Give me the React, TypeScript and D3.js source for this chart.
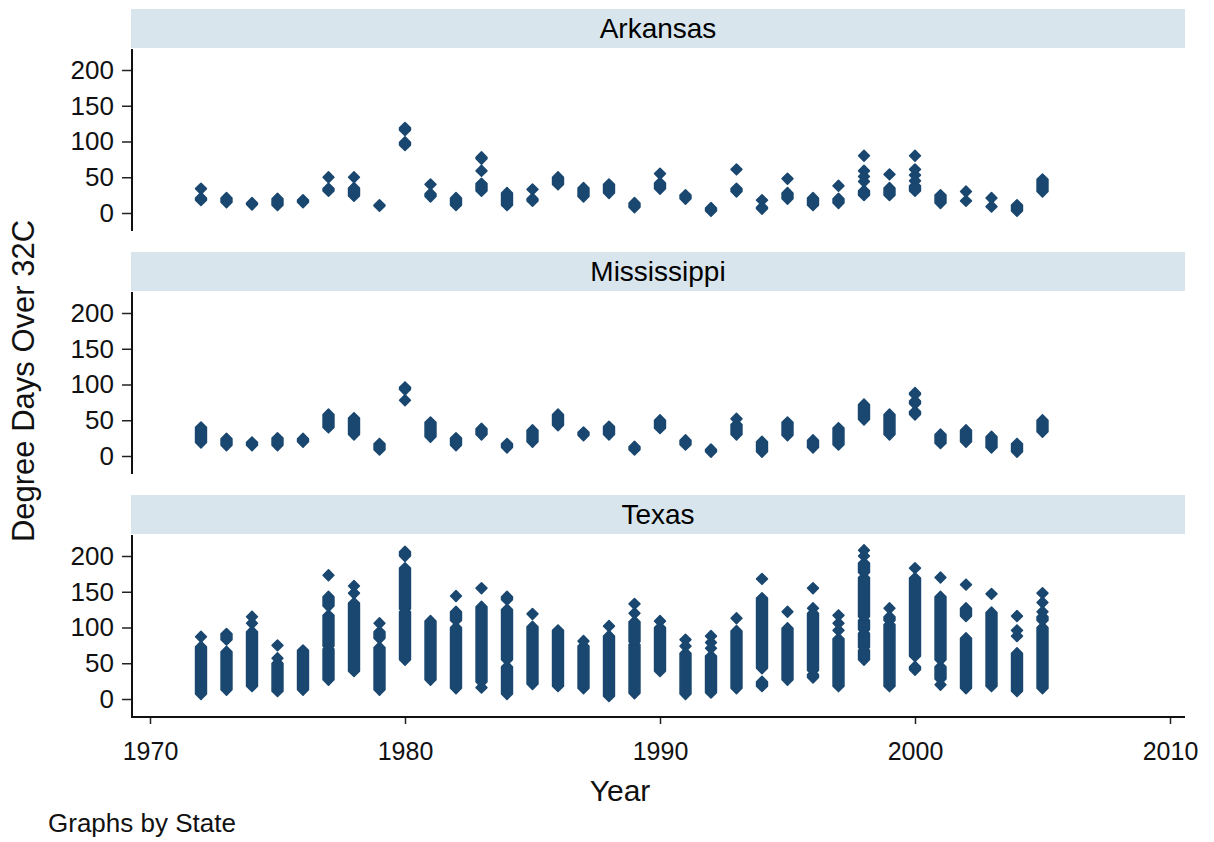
import * as d3 from "d3";
import { FC, useEffect, useRef } from "react";

const WIDTH = 1214;
const HEIGHT = 842;

const STATES = ["Arkansas", "Mississippi", "Texas"];
const YEARS = [
  1972, 1973, 1974, 1975, 1976, 1977, 1978, 1979, 1980, 1981, 1982, 1983,
  1984, 1985, 1986, 1987, 1988, 1989, 1990, 1991, 1992, 1993, 1994, 1995,
  1996, 1997, 1998, 1999, 2000, 2001, 2002, 2003, 2004, 2005,
];
const Y_TICKS = [0, 50, 100, 150, 200];
const X_TICKS = [1970, 1980, 1990, 2000, 2010];

// county values per year, grouped as [low, high]: a group of markers that
// sit on top of each other; low == high is a single marker
type Group = [number, number];

const ARKANSAS: Group[][] = [
  [[18, 21], [34, 34]],
  [[15, 21]],
  [[12, 14]],
  [[11, 20]],
  [[15, 18]],
  [[31, 34], [50, 50]],
  [[24, 35], [50, 50]],
  [[10, 11]],
  [[95, 99], [116, 119]],
  [[23, 27], [40, 40]],
  [[11, 21]],
  [[31, 41], [59, 59], [76, 78]],
  [[11, 28]],
  [[17, 20], [33, 33]],
  [[40, 50]],
  [[23, 35]],
  [[28, 40]],
  [[8, 14]],
  [[34, 42], [55, 55]],
  [[20, 25]],
  [[3, 7]],
  [[30, 34], [61, 61]],
  [[6, 8], [18, 18]],
  [[20, 28], [48, 48]],
  [[11, 21]],
  [[14, 20], [38, 38]],
  [[25, 31], [44, 44], [51, 51], [59, 59], [80, 80]],
  [[25, 35], [54, 54]],
  [[31, 38], [45, 45], [53, 53], [61, 61], [80, 80]],
  [[14, 25]],
  [[17, 17], [30, 30]],
  [[9, 9], [21, 21]],
  [[3, 11]],
  [[30, 47]],
];

const MISSISSIPPI: Group[][] = [
  [[19, 40]],
  [[15, 24]],
  [[15, 19]],
  [[15, 25]],
  [[20, 24]],
  [[40, 58]],
  [[30, 53]],
  [[9, 17]],
  [[78, 78], [93, 96]],
  [[27, 47]],
  [[15, 25]],
  [[30, 38]],
  [[12, 17]],
  [[20, 36]],
  [[43, 58]],
  [[29, 33]],
  [[30, 41]],
  [[9, 13]],
  [[39, 50]],
  [[16, 22]],
  [[6, 9]],
  [[30, 44], [52, 52]],
  [[6, 20]],
  [[29, 47]],
  [[12, 22]],
  [[16, 39]],
  [[51, 72]],
  [[30, 58]],
  [[58, 62], [73, 77], [86, 88]],
  [[18, 30]],
  [[20, 36]],
  [[12, 27]],
  [[6, 17]],
  [[34, 50]],
];

const TEXAS: Group[][] = [
  [[7, 73], [87, 87]],
  [[13, 66], [83, 91]],
  [[18, 94], [106, 106], [115, 115]],
  [[11, 50], [57, 57], [75, 75]],
  [[13, 68]],
  [[27, 70], [74, 117], [130, 143], [173, 173]],
  [[39, 134], [148, 148], [158, 158]],
  [[13, 72], [85, 94], [106, 106]],
  [[55, 122], [126, 183], [200, 206]],
  [[27, 109]],
  [[15, 100], [110, 122], [144, 144]],
  [[16, 16], [24, 129], [155, 155]],
  [[7, 45], [55, 125], [139, 143]],
  [[21, 101], [119, 119]],
  [[18, 96]],
  [[15, 74], [81, 81]],
  [[4, 88], [102, 102]],
  [[8, 76], [80, 108], [120, 120], [133, 133]],
  [[39, 100], [109, 109]],
  [[7, 64], [74, 74], [83, 83]],
  [[9, 60], [71, 71], [79, 79], [88, 88]],
  [[15, 95], [113, 113]],
  [[18, 24], [43, 141], [168, 168]],
  [[27, 99], [122, 122]],
  [[30, 34], [40, 120], [127, 127], [155, 155]],
  [[18, 84], [96, 96], [106, 106], [117, 117]],
  [[55, 68], [72, 92], [97, 110], [115, 170], [177, 190], [200, 200], [208, 208]],
  [[18, 104], [110, 115], [127, 127]],
  [[41, 45], [60, 169], [183, 183]],
  [[20, 20], [28, 45], [55, 143], [170, 170]],
  [[15, 85], [116, 127], [160, 160]],
  [[18, 121], [147, 147]],
  [[11, 64], [88, 88], [96, 96], [116, 116]],
  [[15, 100], [110, 115], [122, 122], [135, 135], [148, 148]],
];

const PANELS = [ARKANSAS, MISSISSIPPI, TEXAS];

const FONT = "'Liberation Sans', Arial, sans-serif";
const MARKER = "#1a476f";
const STRIP = "#d9e5ec";
const R = 5.4; // half size of the diamond (before the stroke)

const App: FC = () => {
  const svgRef = useRef<SVGSVGElement | null>(null);

  useEffect(() => {
    document.body.style.margin = "0";
    if (!svgRef.current) return;
    const svg = d3.select(svgRef.current);
    svg.selectAll("*").remove();

    const left = 131;
    const right = 1185;
    const stripH = 39;
    const plotH = 182;

    const x = d3.scaleLinear().domain([1970, 2010]).range([150, 1170]);

    PANELS.forEach((data, i) => {
      const top = 9 + i * 243;
      const plotTop = top + stripH + 1;
      const y = d3
        .scaleLinear()
        .domain([0, 200])
        .range([plotTop + 164, plotTop + 21]);

      const g = svg.append("g");

      // strip
      g.append("rect")
        .attr("x", left)
        .attr("y", top)
        .attr("width", right - left)
        .attr("height", stripH)
        .attr("fill", STRIP);
      g.append("text")
        .attr("x", (left + right) / 2)
        .attr("y", top + 29)
        .attr("text-anchor", "middle")
        .attr("font-size", 28)
        .attr("fill", "#000")
        .text(STATES[i]);

      // y axis
      const yAxis = g
        .append("g")
        .attr("transform", "translate(132,0)")
        .call(
          d3
            .axisLeft(y)
            .tickValues(Y_TICKS)
            .tickSize(10)
            .tickSizeOuter(0)
            .tickPadding(8)
        );
      yAxis.select(".domain").remove();
      yAxis
        .selectAll("text")
        .attr("font-size", 26)
        .attr("font-family", FONT)
        .attr("fill", "#111");
      yAxis.selectAll("line").attr("stroke", "#222").attr("stroke-width", 1.5);
      g.append("line")
        .attr("x1", 132)
        .attr("x2", 132)
        .attr("y1", plotTop)
        .attr("y2", plotTop + plotH)
        .attr("stroke", "#111")
        .attr("stroke-width", 2);

      // markers
      const shape = (cx: number, d: Group) => {
        const y0 = y(d[0]);
        const y1 = y(d[1]);
        return `M${cx},${y1 - R}L${cx + R},${y1}L${cx + R},${y0}L${cx},${y0 + R}L${cx - R},${y0}L${cx - R},${y1}Z`;
      };
      const cols = g
        .append("g")
        .selectAll("g")
        .data(data)
        .enter()
        .append("g");
      cols
        .selectAll("path")
        .data((d, j) => d.map((grp) => ({ grp, year: YEARS[j] })))
        .enter()
        .append("path")
        .attr("d", (d) => shape(x(d.year), d.grp))
        .attr("fill", MARKER)
        .attr("stroke", MARKER)
        .attr("stroke-width", 1.6)
        .attr("stroke-linejoin", "round");

      // x axis only under the last panel
      if (i === PANELS.length - 1) {
        const axisY = plotTop + plotH;
        const xAxis = g
          .append("g")
          .attr("transform", `translate(0,${axisY})`)
          .call(
            d3
              .axisBottom(x)
              .tickValues(X_TICKS)
              .tickFormat(d3.format("d"))
              .tickSize(7)
              .tickSizeOuter(0)
              .tickPadding(18)
          );
        xAxis.select(".domain").remove();
        xAxis
          .selectAll("text")
          .attr("font-size", 25)
          .attr("font-family", FONT)
          .attr("fill", "#111");
        xAxis.selectAll("line").attr("stroke", "#222").attr("stroke-width", 1.5);
        g.append("line")
          .attr("x1", left)
          .attr("x2", right)
          .attr("y1", axisY)
          .attr("y2", axisY)
          .attr("stroke", "#111")
          .attr("stroke-width", 2);
      }
    });

    // titles
    svg
      .append("text")
      .attr("transform", "translate(34,381) rotate(-90)")
      .attr("text-anchor", "middle")
      .attr("font-size", 31)
      .attr("fill", "#111")
      .text("Degree Days Over 32C");
    svg
      .append("text")
      .attr("x", 620)
      .attr("y", 801)
      .attr("text-anchor", "middle")
      .attr("font-size", 30)
      .attr("fill", "#111")
      .text("Year");
    svg
      .append("text")
      .attr("x", 48)
      .attr("y", 832)
      .attr("font-size", 26)
      .attr("fill", "#111")
      .text("Graphs by State");
  }, []);

  return (
    <svg
      ref={svgRef}
      width={WIDTH}
      height={HEIGHT}
      style={{ display: "block", background: "#fff", fontFamily: FONT }}
    />
  );
};

export default App;
